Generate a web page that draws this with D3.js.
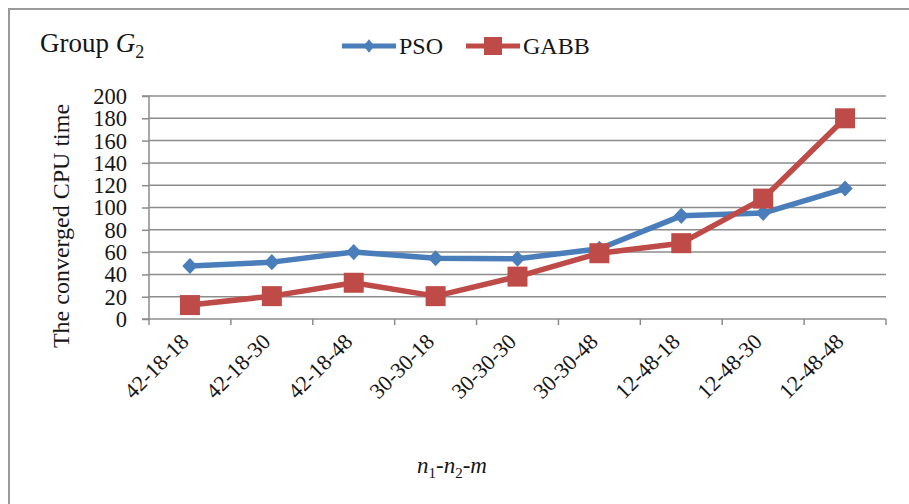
<!DOCTYPE html>
<html>
<head>
<meta charset="utf-8">
<script src="https://cdn.jsdelivr.net/npm/d3@7"></script>
<style>
  html, body { margin: 0; padding: 0; background: #fff; }
  svg { display: block; font-family: "Liberation Serif", "Times New Roman", serif; }
</style>
</head>
<body>
<svg id="chart" width="909" height="504"></svg>
<script>
// Converged CPU time per configuration n1-n2-m, group G2
const categories = ["42-18-18", "42-18-30", "42-18-48", "30-30-18", "30-30-30",
                    "30-30-48", "12-48-18", "12-48-30", "12-48-48"];
const psoValues  = [47.5, 51, 60, 54.5, 54, 63, 92.5, 95, 117];
const gabbValues = [12.5, 20.5, 32.5, 20.5, 38, 59, 68, 108, 180];
const yTicks = [0, 20, 40, 60, 80, 100, 120, 140, 160, 180, 200];

const svg = d3.select("#chart");
const margin = { left: 149, right: 886, top: 96, bottom: 319 };
const ink = "#161616";

const x = d3.scaleBand().domain(categories).range([margin.left, margin.right]);
const y = d3.scaleLinear().domain([0, 200]).range([margin.bottom, margin.top]);

// outer frame (left and top edges visible)
svg.append("path")
  .attr("d", "M9,504 L9,9 L909,9")
  .attr("fill", "none").attr("stroke", "#9a9a9a").attr("stroke-width", 2);

// horizontal gridlines
svg.append("g").selectAll("line").data(yTicks.filter(d => d > 0)).join("line")
  .attr("x1", margin.left).attr("x2", margin.right)
  .attr("y1", d => y(d)).attr("y2", d => y(d))
  .attr("stroke", "#8c8c8c").attr("stroke-width", 1.5);

// y axis
const yAxis = d3.axisLeft(y).tickValues(yTicks).tickSize(7).tickPadding(15);
const gy = svg.append("g").attr("transform", `translate(${margin.left},0)`).call(yAxis);
gy.select(".domain").attr("stroke", "#8c8c8c").attr("stroke-width", 1.5).attr("d", `M-7,${y(200)}H0V${y(0)}H-7`);
gy.selectAll(".tick line").attr("stroke", "#8c8c8c").attr("stroke-width", 1.5);
gy.selectAll(".tick text").attr("font-size", 22.5).attr("fill", ink).attr("dy", "0.33em")
  .attr("font-family", "Liberation Serif, serif");

// x axis: baseline and boundary ticks
const gx = svg.append("g");
gx.append("line")
  .attr("x1", margin.left).attr("x2", margin.right)
  .attr("y1", y(0)).attr("y2", y(0))
  .attr("stroke", "#8c8c8c").attr("stroke-width", 1.5);
const boundaries = categories.map(c => x(c)).concat([x(categories[categories.length - 1]) + x.bandwidth()]);
gx.selectAll("line.tk").data(boundaries).join("line").attr("class", "tk")
  .attr("x1", d => d).attr("x2", d => d)
  .attr("y1", y(0)).attr("y2", y(0) + 6)
  .attr("stroke", "#8c8c8c").attr("stroke-width", 1.5);
gx.selectAll("text").data(categories).join("text")
  .attr("transform", d => `translate(${x(d) + x.bandwidth() / 2},${y(0) + 24}) rotate(-45)`)
  .attr("text-anchor", "end")
  .attr("font-size", 22).attr("fill", ink)
  .text(d => d);

// series lines and markers
const cx = c => x(c) + x.bandwidth() / 2;
const line = d3.line().x(d => cx(d.c)).y(d => y(d.v));
const pso = categories.map((c, i) => ({ c, v: psoValues[i] }));
const gabb = categories.map((c, i) => ({ c, v: gabbValues[i] }));
const blue = "#4a7ebb", red = "#be4b48";

svg.append("path").datum(pso).attr("d", line)
  .attr("fill", "none").attr("stroke", blue).attr("stroke-width", 5.5).attr("stroke-linejoin", "round");
svg.append("g").selectAll("path").data(pso).join("path")
  .attr("d", d3.symbol(d3.symbolDiamond2, 165))
  .attr("transform", d => `translate(${cx(d.c)},${y(d.v)}) scale(0.95,1)`)
  .attr("fill", blue);

svg.append("path").datum(gabb).attr("d", line)
  .attr("fill", "none").attr("stroke", red).attr("stroke-width", 5.5).attr("stroke-linejoin", "round");
svg.append("g").selectAll("rect").data(gabb).join("rect")
  .attr("x", d => cx(d.c) - 10).attr("y", d => y(d.v) - 10)
  .attr("width", 20).attr("height", 20)
  .attr("fill", red);

// title
const title = svg.append("text").attr("x", 40).attr("y", 52).attr("font-size", 27).attr("fill", ink);
title.append("tspan").text("Group ");
title.append("tspan").attr("font-style", "italic").text("G");
title.append("tspan").attr("font-size", 18).attr("dy", 6).text("2");

// legend
const legend = [{ name: "PSO", color: blue, x0: 342, shape: "diamond" },
                { name: "GABB", color: red, x0: 466, shape: "square" }];
const lg = svg.append("g").selectAll("g").data(legend).join("g");
lg.append("line")
  .attr("x1", d => d.x0).attr("x2", d => d.x0 + 54)
  .attr("y1", 46).attr("y2", 46)
  .attr("stroke", d => d.color).attr("stroke-width", 5);
lg.filter(d => d.shape === "diamond").append("path")
  .attr("d", d3.symbol(d3.symbolDiamond2, 115))
  .attr("transform", d => `translate(${d.x0 + 27},46) scale(0.8,1)`)
  .attr("fill", d => d.color);
lg.filter(d => d.shape === "square").append("rect")
  .attr("x", d => d.x0 + 27 - 9).attr("y", 37).attr("width", 18).attr("height", 18)
  .attr("fill", d => d.color);
lg.append("text")
  .attr("x", d => d.x0 + 57).attr("y", 54)
  .attr("font-size", 24).attr("fill", ink)
  .text(d => d.name);

// y axis title
svg.append("text")
  .attr("transform", "translate(69,226) rotate(-90)")
  .attr("text-anchor", "middle")
  .attr("font-size", 24).attr("fill", ink)
  .text("The converged CPU time");

// x axis title
const xt = svg.append("text").attr("x", 452).attr("y", 473).attr("text-anchor", "middle")
  .attr("font-size", 23).attr("fill", ink).attr("font-style", "italic");
xt.append("tspan").text("n");
xt.append("tspan").attr("font-size", 15).attr("dy", 5).attr("font-style", "normal").text("1");
xt.append("tspan").attr("dy", -5).attr("font-style", "normal").text("-");
xt.append("tspan").text("n");
xt.append("tspan").attr("font-size", 15).attr("dy", 5).attr("font-style", "normal").text("2");
xt.append("tspan").attr("dy", -5).attr("font-style", "normal").text("-");
xt.append("tspan").text("m");
</script>
</body>
</html>
